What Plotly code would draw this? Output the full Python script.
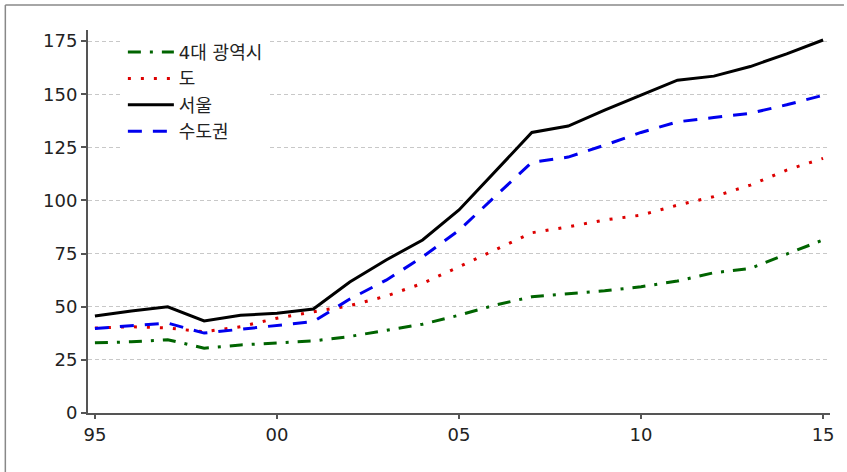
import plotly.graph_objects as go

years = list(range(1995, 2016))
metro4 = [33.0, 33.5, 34.5, 30.5, 32.0, 32.8, 33.9, 36.0, 39.0, 41.8, 46.0, 50.8, 54.7, 56.0, 57.5, 59.4, 62.1, 66.0, 68.0, 74.8, 81.4]
provinces = [40.0, 40.6, 40.0, 38.2, 40.6, 44.6, 47.6, 50.5, 55.0, 61.0, 68.8, 76.7, 84.8, 87.6, 90.8, 93.1, 97.8, 101.8, 107.2, 114.3, 119.8]
seoul = [45.6, 48.0, 50.0, 43.3, 46.0, 46.9, 48.9, 61.6, 72.0, 81.4, 95.5, 113.5, 132.0, 135.0, 142.5, 149.6, 156.6, 158.5, 163.0, 169.0, 175.5]
capital = [39.8, 41.2, 42.3, 37.6, 39.5, 41.2, 43.0, 53.6, 62.5, 73.4, 86.0, 102.0, 118.0, 120.4, 126.0, 132.0, 137.0, 139.0, 141.0, 145.0, 149.5]

names = ["4대 광역시", "도", "서울", "수도권"]
tick_vals = [1995, 2000, 2005, 2010, 2015]
tick_text = ["95", "00", "05", "10", "15"]

FONT = "DejaVu Sans, Noto Sans CJK KR"

fig = go.Figure()
fig.add_trace(go.Scatter(x=years, y=metro4, name=names[0], mode="lines",
                         line=dict(color="#006400", width=3, dash="13px,9px,3px,9px")))
fig.add_trace(go.Scatter(x=years, y=provinces, name=names[1], mode="lines",
                         line=dict(color="#dd0000", width=3, dash="3px,10px")))
fig.add_trace(go.Scatter(x=years, y=seoul, name=names[2], mode="lines",
                         line=dict(color="#000000", width=3)))
fig.add_trace(go.Scatter(x=years, y=capital, name=names[3], mode="lines",
                         line=dict(color="#0000ee", width=3, dash="14px,11px")))

fig.update_layout(
    width=847, height=472,
    margin=dict(l=88, r=14, t=30, b=59),
    paper_bgcolor="white", plot_bgcolor="white",
    font=dict(family=FONT, size=18, color="#222"),
    showlegend=True,
    legend=dict(x=0.047, y=0.99, xanchor="left", yanchor="top", itemwidth=46,
                bgcolor="white", borderwidth=0, font=dict(size=18, family=FONT, color="#222")),
    xaxis=dict(range=[1994.81, 2015.19], tickvals=tick_vals, ticktext=tick_text,
               showgrid=False, zeroline=False, showline=True, linecolor="#555", linewidth=2,
               ticks="outside", ticklen=4, tickcolor="#555", tickwidth=1.5,
               tickfont=dict(size=18, family=FONT, color="#222")),
    yaxis=dict(range=[0, 180.2], tickvals=[0, 25, 50, 75, 100, 125, 150, 175],
               showgrid=True, gridcolor="#c8c8c8", griddash="4px,3px", gridwidth=1,
               zeroline=False, showline=True, linecolor="#555", linewidth=2,
               ticks="outside", ticklen=5, tickcolor="#555", tickwidth=1.5,
               tickfont=dict(size=18, family=FONT, color="#222")),
    shapes=[
        dict(type="line", xref="paper", yref="paper", x0=(5-88)/745, x1=(847-88)/745,
             y0=(413-5)/383, y1=(413-5)/383, line=dict(color="#888", width=1.5)),
        dict(type="line", xref="paper", yref="paper", x0=(5-88)/745, x1=(5-88)/745,
             y0=(413-5)/383, y1=(413-472)/383, line=dict(color="#888", width=1.5)),
    ],
)

fig.write_html("out.html", config={"displayModeBar": False},
               post_script="document.body.style.margin='0px';document.body.style.overflow='hidden';")
